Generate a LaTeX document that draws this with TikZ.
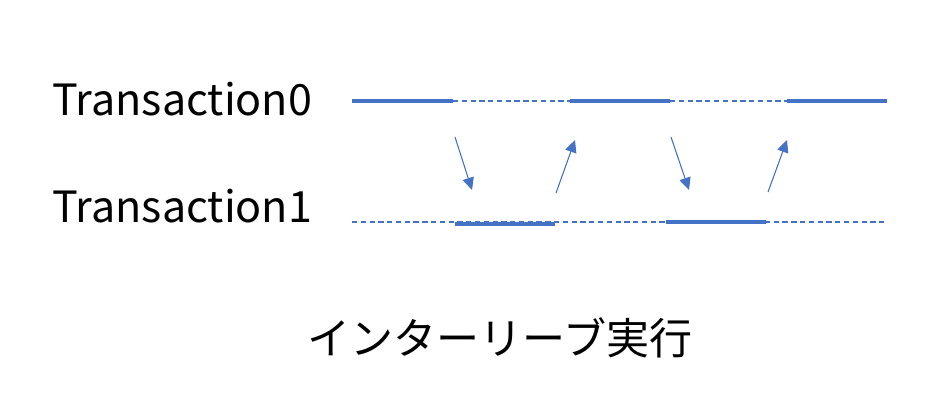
\documentclass[tikz,border=0pt]{standalone}
\usepackage{fontspec}
\setmainfont{Noto Sans CJK JP}
\usetikzlibrary{arrows.meta, positioning, calc}
\definecolor{lineblue}{HTML}{4472C4}

\begin{document}
\begin{tikzpicture}[
    x=0.02cm, y=-0.02cm,
    run/.style={draw=lineblue, line width=2.3pt},
    wait/.style={draw=lineblue, line width=1.3pt, dash pattern=on 3pt off 2pt},
    switch/.style={-{Triangle[length=7pt, width=6.5pt]}, draw=lineblue, fill=lineblue, line width=0.6pt},
    lbl/.style={font=\fontsize{24.5}{28}\selectfont, inner sep=0pt}
]
    \useasboundingbox (0,0) rectangle (950,402);

    % Row labels
    \node[lbl, anchor=base west] (t0) at (52,115) {Transaction0};
    \node[lbl, anchor=base west] (t1) at (52,222) {Transaction1};

    % --- Transaction0 timeline ---
    \foreach \i/\x in {0/352, 1/453, 2/570, 3/670, 4/787, 5/887}
        \coordinate (p\i) at (\x,101);
    \draw[run] (p0) -- (p1);
    \draw[wait] (p1) -- (p2);
    \draw[run] (p2) -- (p3);
    \draw[wait] (p3) -- (p4);
    \draw[run] (p4) -- (p5);

    % --- Transaction1 timeline ---
    \foreach \i/\x in {0/352, 1/455, 2/555, 3/666, 4/766, 5/887}
        \coordinate (q\i) at (\x,222);
    \draw[run] ($(q1)+(0,2)$) -- ($(q2)+(0,2)$);
    \draw[wait] (q0) -- (q5);
    \draw[run] (q3) -- (q4);

    % Switches between the two
    \foreach \n/\xa/\ya/\xb/\yb in {1/455/137/472/190, 2/556/193/575/140, 3/671/137/689/190, 4/768/192/787/140} {
        \coordinate (s\n) at (\xa,\ya);
        \coordinate (e\n) at (\xb,\yb);
        \draw[switch] (s\n) -- (e\n);
    }

    % Caption
    \node[lbl, anchor=base] (title) at (500,354) {インターリーブ実行};
\end{tikzpicture}
\end{document}
